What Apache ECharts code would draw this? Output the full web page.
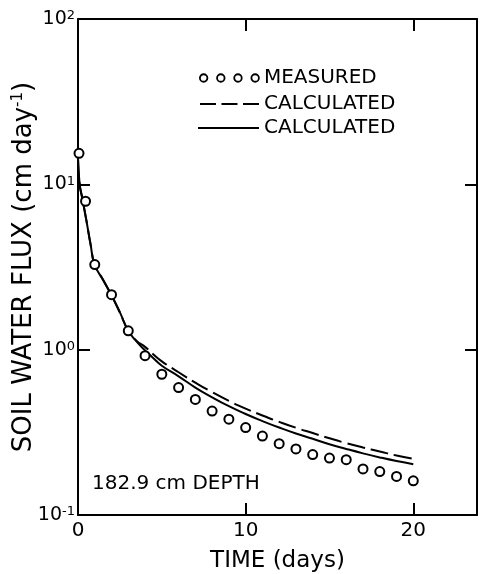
<!DOCTYPE html>
<html>
<head>
<meta charset="utf-8">
<script src="https://cdn.jsdelivr.net/npm/echarts@6/dist/echarts.min.js"></script>
<style>
html,body{margin:0;padding:0;background:#fff;}
#chart{width:481px;height:574px;}
</style>
</head>
<body>
<div id="chart"></div>
<script>
// ---- data ----
const measuredDays = [0.06, 0.45, 1, 2, 3, 4, 5, 6, 7, 8, 9, 10, 11, 12, 13, 14, 15, 16, 17, 18, 19, 20];
const measuredFlux = [15.4, 7.9, 3.27, 2.15, 1.30, 0.92, 0.71, 0.59, 0.50, 0.425, 0.38, 0.338, 0.30, 0.27, 0.251, 0.232, 0.221, 0.216, 0.19, 0.183, 0.171, 0.161];

const calcDays = [0, 0.1, 0.25, 0.5, 0.75, 1, 1.5, 2, 2.5, 3, 3.5, 4, 4.5, 5, 6, 7, 8, 9, 10, 11, 12, 13, 14, 15, 16, 17, 18, 19, 20];
const calcSolid = [14.4, 10.0, 8.3, 6.05, 4.33, 3.25, 2.64, 2.13, 1.68, 1.30, 1.12, 0.99, 0.888, 0.80, 0.69, 0.59, 0.515, 0.455, 0.408, 0.37, 0.338, 0.311, 0.289, 0.268, 0.251, 0.236, 0.223, 0.212, 0.203];
const calcDashed = [14.4, 10.0, 8.3, 6.05, 4.33, 3.25, 2.64, 2.13, 1.68, 1.30, 1.13, 1.04, 0.935, 0.85, 0.73, 0.632, 0.553, 0.49, 0.44, 0.4, 0.366, 0.337, 0.313, 0.291, 0.272, 0.256, 0.242, 0.229, 0.219];

const xTicks = [0, 10, 20];
const yDecades = [-1, 0, 1, 2];   // exponents of the log ticks (10^-1 … 10^2)
const legendNames = ['MEASURED', 'CALCULATED', 'CALCULATED '];
const xTitle = 'TIME (days)';
const yTitle = 'SOIL WATER FLUX (cm day{s|-1})';
const depthNote = '182.9 cm DEPTH';

// ---- chart ----
const FONT = 'DejaVu Sans';
const chart = echarts.init(document.getElementById('chart'), null, {renderer: 'canvas'});

function pairs(xs, ys) { return xs.map((x, i) => [x, ys[i]]); }

const fourCircles = 'path://' + [4, 20, 36, 52].map(c =>
  `M${c - 3.5},4a3.5,3.5 0 1,0 7,0a3.5,3.5 0 1,0 -7,0Z`).join('');

const axisLineStyle = {color: '#000', width: 2};
const tickStyle = {color: '#000', width: 2};

function supLabel(v) {
  const e = Math.round(Math.log10(v));
  return '{b|10}{s|' + e + '}';
}

const legendText = {fontFamily: FONT, fontSize: 20, color: '#000', lineHeight: 20};

const option = {
  backgroundColor: '#fff',
  animation: false,
  grid: {left: 78, right: 4, top: 19, bottom: 59, containLabel: false, outerBoundsMode: 'none'},
  legend: [
    {
      data: [{name: legendNames[0], icon: fourCircles,
        itemStyle: {color: '#fff', borderColor: '#000', borderWidth: 1.8, opacity: 1}}],
      left: 199, top: 68, padding: 0, itemWidth: 59, itemHeight: 9,
      selectedMode: false, textStyle: legendText
    },
    {
      data: [legendNames[1]],
      left: 199, top: 94, padding: 0, itemWidth: 59, itemHeight: 10,
      selectedMode: false,
      itemStyle: {opacity: 0},
      lineStyle: {type: [16, 5.5], width: 2, color: '#000'},
      textStyle: legendText
    },
    {
      data: [legendNames[2]],
      left: 197, top: 118, padding: 0, itemWidth: 61, itemHeight: 10,
      selectedMode: false,
      itemStyle: {opacity: 0},
      lineStyle: {width: 2, color: '#000'},
      textStyle: legendText
    }
  ],
  xAxis: [
    {
      type: 'value', min: 0, max: 23.8, interval: 10, position: 'bottom',
      name: xTitle, nameLocation: 'middle', nameGap: 35, nameMoveOverlap: false,
      nameTextStyle: {fontFamily: FONT, fontSize: 23, color: '#000'},
      axisLine: {show: true, onZero: false, lineStyle: axisLineStyle},
      axisTick: {show: true, inside: true, length: 12, lineStyle: tickStyle,
        customValues: xTicks},
      axisLabel: {fontFamily: FONT, fontSize: 20, color: '#000', margin: 6,
        customValues: xTicks},
      splitLine: {show: false}
    },
    {
      type: 'value', min: 0, max: 23.8, interval: 10, position: 'top',
      axisLine: {show: true, onZero: false, lineStyle: axisLineStyle},
      axisTick: {show: true, inside: true, length: 12, lineStyle: tickStyle,
        customValues: xTicks},
      axisLabel: {show: false},
      splitLine: {show: false}
    }
  ],
  yAxis: [
    {
      type: 'log', logBase: 10, min: 0.1, max: 100, position: 'left',
      name: yTitle,
      nameLocation: 'middle', nameGap: 41, nameMoveOverlap: false,
      nameTextStyle: {fontFamily: FONT, fontSize: 26, color: '#000',
        rich: {s: {fontFamily: FONT, fontSize: 15, verticalAlign: 'top', color: '#000'}}},
      axisLine: {show: true, onZero: false, lineStyle: axisLineStyle},
      axisTick: {show: true, inside: true, length: 12, lineStyle: tickStyle},
      minorTick: {show: false},
      axisLabel: {
        margin: 3,
        formatter: supLabel,
        rich: {
          b: {fontFamily: FONT, fontSize: 19, color: '#000', verticalAlign: 'bottom'},
          s: {fontFamily: FONT, fontSize: 13, color: '#000', verticalAlign: 'top'}
        }
      },
      splitLine: {show: false}
    },
    {
      // mirror axis on the right, in decades (same positions as the log axis)
      type: 'value', min: yDecades[0], max: yDecades[yDecades.length - 1], interval: 1,
      position: 'right',
      axisLine: {show: true, onZero: false, lineStyle: axisLineStyle},
      axisTick: {show: true, inside: true, length: 12, lineStyle: tickStyle},
      axisLabel: {show: false},
      splitLine: {show: false}
    }
  ],
  series: [
    {
      name: legendNames[1], type: 'line', xAxisIndex: 0, yAxisIndex: 0,
      data: pairs(calcDays, calcDashed), smooth: true, symbol: 'none',
      lineStyle: {color: '#000', width: 2, type: [18, 6]}, z: 2
    },
    {
      name: legendNames[2], type: 'line', xAxisIndex: 0, yAxisIndex: 0,
      data: pairs(calcDays, calcSolid), smooth: true, symbol: 'none',
      lineStyle: {color: '#000', width: 2}, z: 3
    },
    {
      name: legendNames[0], type: 'scatter', xAxisIndex: 0, yAxisIndex: 0,
      data: pairs(measuredDays, measuredFlux), symbol: 'circle', symbolSize: 9,
      itemStyle: {color: '#fff', borderColor: '#000', borderWidth: 2, opacity: 1}, z: 5
    }
  ],
  graphic: [
    {
      type: 'text', x: 92, y: 484,
      style: {text: depthNote, fontFamily: FONT, fontSize: 20, fill: '#000',
        align: 'left', verticalAlign: 'middle'}
    }
  ]
};
chart.setOption(option);
</script>
</body>
</html>
